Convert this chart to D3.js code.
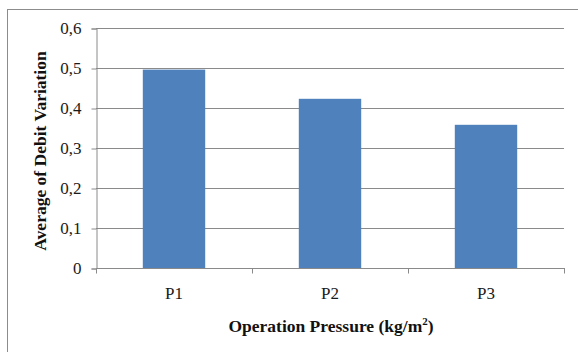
<!DOCTYPE html>
<html><head><meta charset="utf-8">
<script src="https://cdn.jsdelivr.net/npm/d3@7/dist/d3.min.js"></script>
<style>body{margin:0;background:#fff}svg{display:block}text{font-family:"Liberation Serif","Times New Roman",serif}</style>
</head><body>
<script>
const categories = ["P1", "P2", "P3"];
const values = [0.496, 0.423, 0.358];
const yTicks = [0, 0.1, 0.2, 0.3, 0.4, 0.5, 0.6];
const yTickLabels = ["0", "0,1", "0,2", "0,3", "0,4", "0,5", "0,6"];

(function () {
const W = 578, H = 352;
const svg = d3.select("body").append("svg").attr("width", W).attr("height", H);
svg.append("rect").attr("x", 7.5).attr("y", 9.5).attr("width", 600).attr("height", 400)
  .attr("fill", "none").attr("stroke", "#8c8c8c").attr("stroke-width", 1);

const pLeft = 96, pRight = 564, pTop = 28, pBottom = 268;
const x = d3.scaleBand().domain(categories).range([pLeft, pRight]).paddingInner(0.6).paddingOuter(0.3);
const y = d3.scaleLinear().domain([0, 0.6]).range([pBottom, pTop]);

svg.append("g").selectAll("line").data(yTicks.slice(1)).join("line")
  .attr("x1", pLeft).attr("x2", pRight)
  .attr("y1", d => Math.round(y(d)) + 0.5).attr("y2", d => Math.round(y(d)) + 0.5)
  .attr("stroke", "#8a8a8a").attr("stroke-width", 1);

svg.append("g").selectAll("rect").data(values).join("rect")
  .attr("x", (d, i) => x(categories[i]))
  .attr("width", x.bandwidth())
  .attr("y", d => y(d))
  .attr("height", d => pBottom - y(d))
  .attr("fill", "#4f81bd");

const yAxis = d3.axisLeft(y).tickValues(yTicks).tickSize(5).tickPadding(10)
  .tickFormat((d, i) => yTickLabels[i]);
const gy = svg.append("g").attr("transform", `translate(${pLeft + 0.5},0.5)`).call(yAxis);
gy.select(".domain").attr("stroke", "#8a8a8a");
gy.selectAll(".tick line").attr("stroke", "#8a8a8a");
gy.selectAll("text").attr("font-size", 17).attr("fill", "#1a1a1a").style("font-family", "Liberation Serif");

const xBoundary = d3.scaleLinear().domain([0, 3]).range([pLeft, pRight]);
const gx = svg.append("g").attr("transform", `translate(0,${pBottom + 0.5})`);
gx.append("line").attr("x1", pLeft).attr("x2", pRight + 1).attr("stroke", "#8a8a8a");
gx.selectAll("line.tk").data([0, 1, 2, 3]).join("line").attr("class", "tk")
  .attr("x1", d => Math.round(xBoundary(d)) + 0.5).attr("x2", d => Math.round(xBoundary(d)) + 0.5)
  .attr("y1", 0).attr("y2", 5).attr("stroke", "#8a8a8a");
gx.selectAll("text").data(categories).join("text")
  .attr("x", d => x(d) + x.bandwidth() / 2).attr("y", 30)
  .attr("text-anchor", "middle").attr("font-size", 17).attr("fill", "#1a1a1a").text(d => d);

svg.append("text").attr("transform", "translate(46,151) rotate(-90)")
  .attr("text-anchor", "middle").attr("font-size", 17.5).attr("font-weight", "bold").attr("fill", "#111")
  .text("Average of Debit Variation");
const xt = svg.append("text").attr("x", 331).attr("y", 332)
  .attr("text-anchor", "middle").attr("font-size", 17.5).attr("font-weight", "bold").attr("fill", "#111");
xt.append("tspan").text("Operation Pressure (kg/m");
xt.append("tspan").attr("font-size", 11).attr("dy", -7).text("2");
xt.append("tspan").attr("dy", 7).text(")");
})();
</script>
</body></html>
